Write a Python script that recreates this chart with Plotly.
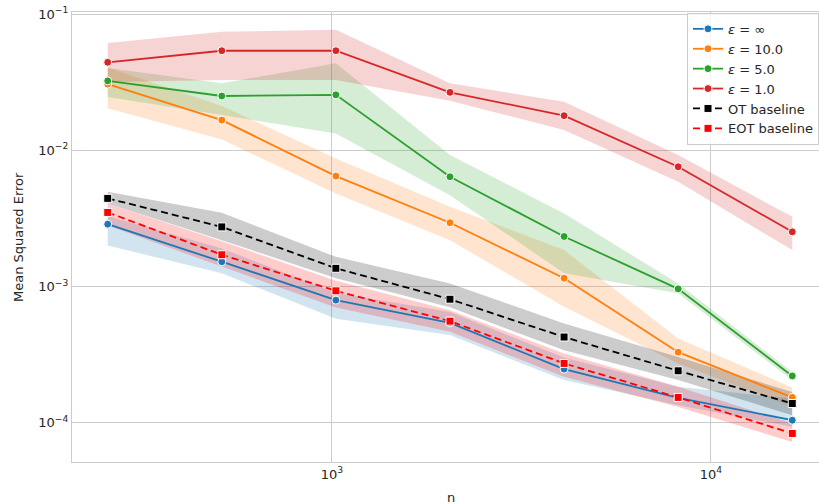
import plotly.graph_objects as go

n = [256, 512, 1024, 2048, 4096, 8192, 16384]

inf_mean = [0.00287, 0.00152, 0.000793, 0.00054, 0.000247, 0.000152, 0.000104]
inf_low = [0.00200, 0.00125, 0.00058, 0.00044, 0.000205, 0.000134, 0.0000930]
inf_high = [0.00330, 0.00190, 0.00090, 0.00065, 0.000300, 0.000183, 0.000150]

e10_mean = [0.0307, 0.0167, 0.00647, 0.00294, 0.00115, 0.000329, 0.000153]
e10_low = [0.0204, 0.0120, 0.00483, 0.00219, 0.000708, 0.000272, 0.000130]
e10_high = [0.0407, 0.0212, 0.00873, 0.00385, 0.00185, 0.000415, 0.000181]

e5_mean = [0.0324, 0.0251, 0.0256, 0.0064, 0.00233, 0.00096, 0.000220]
e5_low = [0.0247, 0.0182, 0.0133, 0.00469, 0.00125, 0.00089, 0.000205]
e5_high = [0.0403, 0.0311, 0.0437, 0.00923, 0.00344, 0.00105, 0.000235]

e1_mean = [0.0444, 0.0540, 0.0540, 0.0267, 0.0180, 0.00758, 0.00252]
e1_low = [0.0318, 0.0329, 0.0329, 0.0232, 0.0141, 0.00588, 0.00185]
e1_high = [0.0615, 0.0745, 0.0770, 0.0311, 0.0228, 0.00923, 0.00325]

ot_mean = [0.00444, 0.00274, 0.00136, 0.000806, 0.000425, 0.000240, 0.000138]
ot_low = [0.00407, 0.00219, 0.00115, 0.000702, 0.000340, 0.000205, 0.000113]
ot_high = [0.00497, 0.00348, 0.00165, 0.00105, 0.000535, 0.000303, 0.000168]

eot_mean = [0.00350, 0.00171, 0.000929, 0.000556, 0.000272, 0.000153, 0.0000831]
eot_low = [0.00280, 0.00140, 0.00070, 0.000464, 0.000217, 0.000130, 0.0000719]
eot_high = [0.00407, 0.00215, 0.00110, 0.00067, 0.000321, 0.000183, 0.0000984]

series = [
    ("<i>ε</i> = ∞", inf_mean, inf_low, inf_high, "#1f77b4", "rgba(31,119,180,0.2)", "circle", "solid"),
    ("<i>ε</i> = 10.0", e10_mean, e10_low, e10_high, "#ff7f0e", "rgba(255,127,14,0.2)", "circle", "solid"),
    ("<i>ε</i> = 5.0", e5_mean, e5_low, e5_high, "#2ca02c", "rgba(44,160,44,0.2)", "circle", "solid"),
    ("<i>ε</i> = 1.0", e1_mean, e1_low, e1_high, "#d62728", "rgba(214,39,40,0.2)", "circle", "solid"),
    ("OT baseline", ot_mean, ot_low, ot_high, "#000000", "rgba(0,0,0,0.2)", "square", "7px,4px"),
    ("EOT baseline", eot_mean, eot_low, eot_high, "#ff0000", "rgba(255,0,0,0.2)", "square", "7px,4px"),
]

FONT = "DejaVu Sans"
fig = go.Figure()
for name, m, lo, hi, col, fcol, sym, dash in series:
    fig.add_trace(go.Scatter(
        x=n + n[::-1], y=hi + lo[::-1], fill="toself", fillcolor=fcol,
        line=dict(width=0), mode="lines", hoverinfo="skip", showlegend=False))
for name, m, lo, hi, col, fcol, sym, dash in series:
    fig.add_trace(go.Scatter(
        x=n, y=m, name=name, mode="lines+markers",
        line=dict(color=col, width=1.8, dash=dash),
        marker=dict(symbol=sym, size=8, color=col, line=dict(color="white", width=1))))

fig.update_layout(
    width=819, height=504,
    margin=dict(l=72, r=0, t=12, b=42),
    paper_bgcolor="white", plot_bgcolor="white",
    font=dict(family=FONT, size=13, color="#262626"),
    showlegend=True,
    legend=dict(x=1.0, y=0.998, xanchor="right", yanchor="top",
                bgcolor="rgba(255,255,255,0.8)", bordercolor="#cccccc", borderwidth=1,
                font=dict(family=FONT, size=13, color="#262626"),
                itemwidth=30, tracegroupgap=0),
    xaxis=dict(type="log", range=[2.314, 4.285],
               tickvals=[1000, 10000], ticktext=["10<sup>3</sup>", "10<sup>4</sup>"],
               showgrid=True, gridcolor="#cccccc", gridwidth=1,
               showline=True, linecolor="#cccccc", linewidth=1.25, mirror=True,
               ticks="", zeroline=False, tickfont=dict(size=13)),
    yaxis=dict(type="log", range=[-4.29, -0.983],
               tickvals=[1e-4, 1e-3, 1e-2, 1e-1],
               ticktext=["10<sup>−4</sup>", "10<sup>−3</sup>", "10<sup>−2</sup>", "10<sup>−1</sup>"],
               showgrid=True, gridcolor="#cccccc", gridwidth=1,
               showline=True, linecolor="#cccccc", linewidth=1.25, mirror=False,
               ticks="", zeroline=False, tickfont=dict(size=13)),
    annotations=[
        dict(text="n", xref="paper", yref="paper", x=0.507, y=-0.078,
             xanchor="center", yanchor="middle", showarrow=False,
             font=dict(family=FONT, size=13, color="#262626")),
        dict(text="Mean Squared Error", xref="paper", yref="paper", x=-0.0723, y=0.5,
             xanchor="center", yanchor="middle", textangle=-90, showarrow=False,
             font=dict(family=FONT, size=13, color="#262626")),
    ],
)

fig.write_html("out.html")
